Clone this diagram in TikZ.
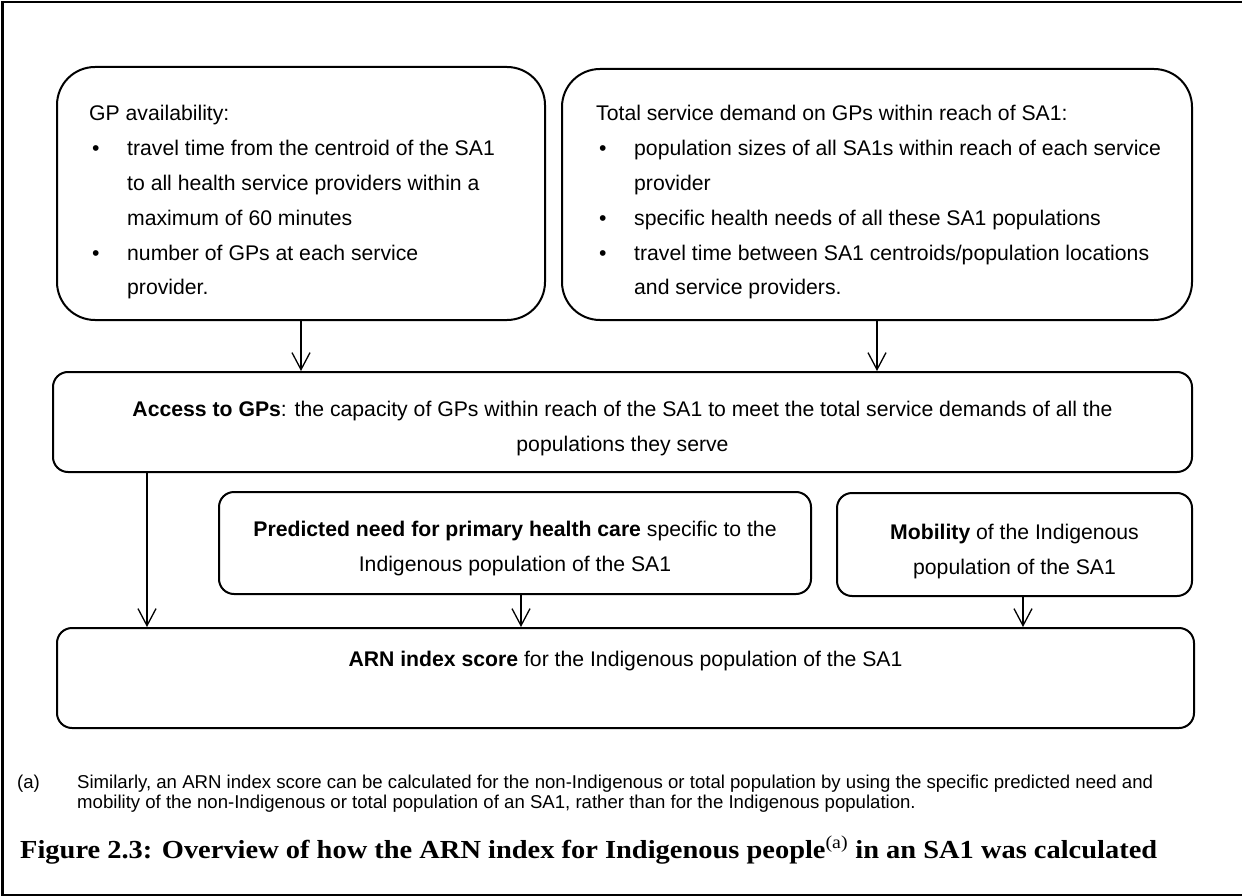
\documentclass[tikz,border=0pt]{standalone}
\usepackage{fontspec}
\setmainfont{Liberation Sans}
\newfontfamily\capfont{Liberation Serif}
\usetikzlibrary{arrows.meta,calc}
\newcommand\fls{\rule{0pt}{20pt}}
\newcommand\fnfls{\rule{0pt}{16pt}}
\newcommand\bul{\makebox[38pt][l]{\hspace{3pt}\textbullet}}
\newcommand\ind{\hspace*{38pt}}
\begin{document}
\begin{tikzpicture}[x=1pt,y=-1pt,
  bx/.style={draw,line width=2pt,rectangle,inner sep=0pt,rounded corners=#1},
  bigbox/.style={bx=38pt},
  smallbox/.style={bx=15pt},
  txt/.style={inner sep=0pt,font=\fontsize{21.2pt}{34.8pt}\selectfont},
  fn/.style={inner sep=0pt,font=\fontsize{18.6pt}{20.5pt}\selectfont},
  arr/.style={-{Straight Barb[length=17pt,width=18pt]},line width=1.3pt},
  frame/.style={line width=2.6pt}]
\useasboundingbox (0,0) rectangle (1242,896);
% outer frame (right side lies outside the picture)
\draw[frame] (1260,2) -- (2.5,2) -- (2.5,895) -- (1260,895);

% boxes
\node[bigbox,minimum width=488pt,minimum height=253pt] (gpa) at (301,193.5) {};
\node[bigbox,minimum width=630pt,minimum height=251pt] (dem) at (877,194.5) {};
\node[smallbox,minimum width=1139pt,minimum height=100pt] (acc) at (622.5,422) {};
\node[smallbox,minimum width=592pt,minimum height=102pt] (pred) at (515,543) {};
\node[smallbox,minimum width=355pt,minimum height=103pt] (mob) at (1014.5,544.5) {};
\node[smallbox,minimum width=1137pt,minimum height=100pt] (arn) at (625.5,678) {};

% texts
\node[txt,anchor=north west,align=left] (gpat) at ([shift={(33,34.7)}]gpa.north west)
 {\fls GP availability:\\
  \bul travel time from the centroid of the SA1\\
  \ind to all health service providers within a\\
  \ind maximum of 60 minutes\\
  \bul number of GPs at each service\\
  \ind provider.};
\node[txt,anchor=north west,align=left] (demt) at ([shift={(35,32.7)}]dem.north west)
 {\fls Total service demand on GPs within reach of SA1:\\
  \bul population sizes of all SA1s within reach of each service\\
  \ind provider\\
  \bul specific health needs of all these SA1 populations\\
  \bul travel time between SA1 centroids/population locations\\
  \ind and service providers.};
\node[txt,anchor=north,align=center] (acct) at ([shift={(0,25)}]acc.north)
 {\fls\textbf{Access to GPs}: the capacity of GPs within reach of the SA1 to meet the total service demands of all the\\
  populations they serve};
\node[txt,anchor=north,align=center] (predt) at ([shift={(0,25)}]pred.north)
 {\fls\textbf{Predicted need for primary health care} specific to the\\
  Indigenous population of the SA1};
\node[txt,anchor=north,align=center] (mobt) at ([shift={(0,27)}]mob.north)
 {\fls\textbf{Mobility} of the Indigenous\\
  population of the SA1};
\node[txt,anchor=base] (arnt) at ([yshift=12pt]arn.center)
 {\textbf{ARN index score} for the Indigenous population of the SA1};

% arrows
\draw[arr] (gpa.south) -- (gpa.south |- acc.north);
\draw[arr] (dem.south) -- (dem.south |- acc.north);
\coordinate (accout) at ([xshift=95pt]acc.south west);
\draw[arr] (accout) -- (accout |- arn.north);
\coordinate (predout) at ([xshift=6pt]pred.south);
\draw[arr] (predout) -- (predout |- arn.north);
\coordinate (mobout) at ([xshift=8.5pt]mob.south);
\draw[arr] (mobout) -- (mobout |- arn.north);

% footnote and caption
\node[fn,anchor=base west] (fna) at (17,788) {(a)};
\node[fn,anchor=north west,align=left] (fnt) at (77,772)
 {\fnfls Similarly, an ARN index score can be calculated for the non-Indigenous or total population by using the specific predicted need and\\
  mobility of the non-Indigenous or total population of an SA1, rather than for the Indigenous population.};
\node[inner sep=0pt,anchor=base west] (cap) at (20,858)
 {\resizebox{1137pt}{\height}{\capfont\bfseries\fontsize{26pt}{30pt}\selectfont Figure 2.3: Overview of how the ARN index for Indigenous people\textsuperscript{\mdseries(a)} in an SA1 was calculated}};
\end{tikzpicture}
\end{document}
